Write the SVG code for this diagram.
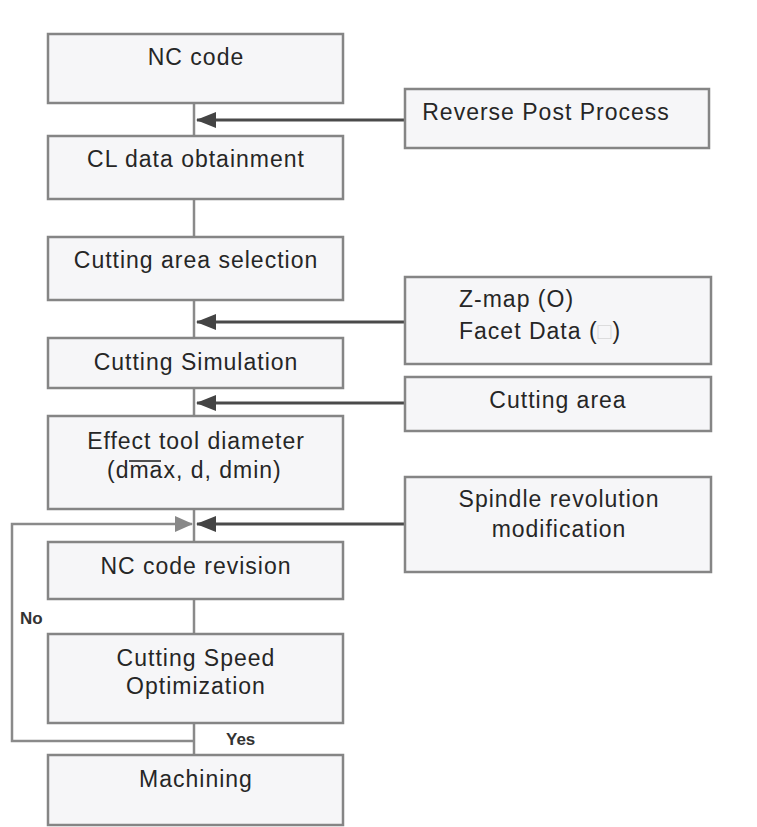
<svg xmlns="http://www.w3.org/2000/svg" width="757" height="827" viewBox="0 0 757 827">
  <style>
    .box { fill: #f6f6f8; stroke: #858585; stroke-width: 2.5; }
    .lbl { font-family: "Liberation Sans", Arial, sans-serif; font-size: 23px; letter-spacing: 1px; fill: #262626; text-anchor: middle; }
    .lft { text-anchor: start; }
    .yn { font-family: "Liberation Sans", Arial, sans-serif; font-size: 17px; font-weight: bold; fill: #333; }
    .flow { fill: none; stroke: #8a8a8a; stroke-width: 2.5; }
    .feed { fill: none; stroke: #4a4a4a; stroke-width: 3; }
  </style>
  <defs>
    <!-- arrowheads drawn pointing along +x, tip at refX -->
    <marker id="headDark" viewBox="0 0 20 16" refX="19" refY="8" markerWidth="20" markerHeight="16" markerUnits="userSpaceOnUse" orient="auto">
      <path d="M0,0 L20,8 L0,16 Z" fill="#444"/>
    </marker>
    <marker id="headGray" viewBox="0 0 18 16" refX="17" refY="8" markerWidth="18" markerHeight="16" markerUnits="userSpaceOnUse" orient="auto">
      <path d="M0,0 L18,8 L0,16 Z" fill="#888"/>
    </marker>
  </defs>

  <g id="connectors">
    <!-- main vertical spine -->
    <line class="flow" x1="194" y1="103" x2="194" y2="755"/>
    <!-- feedback loop: No -->
    <polyline class="flow" points="194,741 12,741 12,524 192,524" marker-end="url(#headGray)"/>
    <!-- side inputs -->
    <line class="feed" x1="407" y1="120" x2="197" y2="120" marker-end="url(#headDark)"/>
    <line class="feed" x1="407" y1="322" x2="197" y2="322" marker-end="url(#headDark)"/>
    <line class="feed" x1="407" y1="403" x2="197" y2="403" marker-end="url(#headDark)"/>
    <line class="feed" x1="407" y1="524" x2="197" y2="524" marker-end="url(#headDark)"/>
  </g>

  <g id="nc-code">
    <rect class="box" x="48" y="34" width="295" height="69"/>
    <text class="lbl" x="196" y="65">NC code</text>
  </g>
  <g id="cl-data">
    <rect class="box" x="48" y="136" width="295" height="63"/>
    <text class="lbl" x="196" y="167">CL data obtainment</text>
  </g>
  <g id="area-selection">
    <rect class="box" x="48" y="237" width="295" height="63"/>
    <text class="lbl" x="196" y="268">Cutting area selection</text>
  </g>
  <g id="simulation">
    <rect class="box" x="48" y="338" width="295" height="50"/>
    <text class="lbl" x="196" y="370">Cutting Simulation</text>
  </g>
  <g id="tool-diameter">
    <rect class="box" x="48" y="416" width="295" height="93"/>
    <text class="lbl" x="196" y="449">Effect tool diameter</text>
    <text class="lbl lft" x="107" y="478">(dmax, d, dmin)</text>
    <!-- bar over "ma" -->
    <line x1="129" y1="461" x2="161" y2="461" stroke="#262626" stroke-width="1.6"/>
  </g>
  <g id="code-revision">
    <rect class="box" x="48" y="542" width="295" height="57"/>
    <text class="lbl" x="196" y="574">NC code revision</text>
  </g>
  <g id="speed-opt">
    <rect class="box" x="48" y="634" width="295" height="89"/>
    <text class="lbl" x="196" y="666">Cutting Speed</text>
    <text class="lbl" x="196" y="694">Optimization</text>
  </g>
  <g id="machining">
    <rect class="box" x="48" y="755" width="295" height="70"/>
    <text class="lbl" x="196" y="787">Machining</text>
  </g>

  <g id="reverse-post">
    <rect class="box" x="405" y="89" width="304" height="59"/>
    <text class="lbl" x="546" y="120">Reverse Post Process</text>
  </g>
  <g id="model-data">
    <rect class="box" x="405" y="277" width="306" height="87"/>
    <text class="lbl lft" x="459" y="307">Z-map (O)</text>
    <text class="lbl lft" x="459" y="339">Facet Data (<tspan fill="#d8d8d8">□</tspan>)</text>
  </g>
  <g id="cutting-area">
    <rect class="box" x="405" y="377" width="306" height="54"/>
    <text class="lbl" x="558" y="408">Cutting area</text>
  </g>
  <g id="spindle">
    <rect class="box" x="405" y="477" width="306" height="95"/>
    <text class="lbl" x="559" y="507">Spindle revolution</text>
    <text class="lbl" x="559" y="537">modification</text>
  </g>

  <g id="branch-labels">
    <text class="yn" x="20" y="624">No</text>
    <text class="yn" x="226" y="745">Yes</text>
  </g>
</svg>
